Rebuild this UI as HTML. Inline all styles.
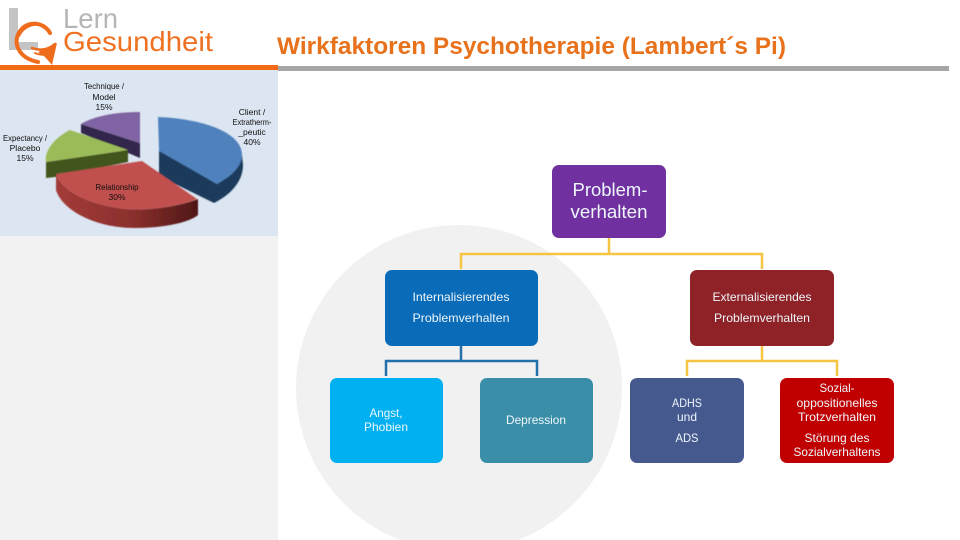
<!DOCTYPE html>
<html lang="de">
<head>
<meta charset="utf-8">
<title>Wirkfaktoren Psychotherapie</title>
<style>
html,body{margin:0;padding:0;background:#fff;width:960px;height:540px;overflow:hidden}
svg{display:block}
text{font-family:"Liberation Sans",sans-serif}
.m{text-anchor:middle;fill:#eef6fb;font-size:12px}
.p{text-anchor:middle;fill:#111;font-size:8.5px}
</style>
</head>
<body>
<svg width="960" height="540" viewBox="0 0 960 540" xmlns="http://www.w3.org/2000/svg">
<defs>
<filter id="b" x="-5%" y="-5%" width="110%" height="110%"><feGaussianBlur stdDeviation="0.4"/></filter>
<filter id="t" x="-5%" y="-20%" width="110%" height="140%"><feGaussianBlur stdDeviation="0.25"/></filter>
<linearGradient id="rs" x1="0" x2="1" y1="0" y2="0"><stop offset="0" stop-color="#a33c39"/><stop offset=".55" stop-color="#8a2f2d"/><stop offset="1" stop-color="#4f1716"/></linearGradient>
</defs>
<rect width="960" height="540" fill="#fff"/>

<!-- left panel -->
<rect x="0" y="236" width="278" height="304" fill="#f2f2f2"/>
<rect x="0" y="70" width="278" height="166" fill="#dce6f2"/>

<!-- header bars -->
<rect x="278" y="66" width="671" height="5" fill="#a6a6a6"/>
<rect x="0" y="65" width="278" height="5" fill="#f26a13"/>

<!-- logo -->
<path d="M9 8h9v34h20v8H9z" fill="#c4c4c4"/>
<g fill="none" stroke="#ee6c1c" stroke-linecap="round">
<path d="M50 33C44 22 28 20 20 31C12 42 18 58 38 62" stroke-width="4"/>
<path d="M46 28C36 21 24 26 19 36" stroke-width="2"/>
<path d="M32 48C40 51 48 50 55 44" stroke-width="2.5"/>
<path d="M35 53C42 56 47 55 52 50" stroke-width="2"/>
</g>
<path d="M57 43L52 65L45 57L38 52z" fill="#ee6c1c"/>
<text x="63" y="28" font-size="28" fill="#b5b5b5" textLength="55" lengthAdjust="spacingAndGlyphs" filter="url(#t)">Lern</text>
<text x="63" y="51" font-size="28" fill="#ee7220" textLength="150" lengthAdjust="spacingAndGlyphs" filter="url(#t)">Gesundheit</text>

<!-- title -->
<text x="277" y="54" font-size="24" font-weight="bold" fill="#e8721c" textLength="509" lengthAdjust="spacingAndGlyphs">Wirkfaktoren Psychotherapie (Lambert´s Pi)</text>

<!-- pie chart -->
<g filter="url(#b)">
<path d="M159 150V176L214 203C230 195 243 182 243 165L242 155L217 184z" fill="#1f3a5c"/>
<path d="M158 117C205 119 242 133 242 155C242 166 232 176 217 184L159 151z" fill="#4f81bd"/>
<path d="M81 124V133L140 158V143z" fill="#33254d"/>
<path d="M81 124C94 116 116 112 140 112V143z" fill="#8064a2"/>
<path d="M46 162V178L55 177L128 162V150z" fill="#43551f"/>
<path d="M70 130L128 150L46 162C44 151 54 138 70 130z" fill="#9bbb59"/>
<path d="M56 174V190C62 210 95 228 135 228C165 228 190 222 198 215V199C180 206 150 211 125 209C85 204 62 190 56 174z" fill="url(#rs)"/>
<path d="M142 161L56 174C62 190 85 204 125 209C150 211 180 206 197 199z" fill="#c0504d"/>
</g>
<g filter="url(#t)">
<text class="p" x="104" y="89" textLength="40" lengthAdjust="spacingAndGlyphs">Technique /</text>
<text class="p" x="104" y="100">Model</text>
<text class="p" x="104" y="110">15%</text>
<text class="p" x="252" y="115">Client /</text>
<text class="p" x="252" y="125" textLength="39" lengthAdjust="spacingAndGlyphs">Extratherm-</text>
<text class="p" x="252" y="135">_peutic</text>
<text class="p" x="252" y="145">40%</text>
<text class="p" x="25" y="141" textLength="44" lengthAdjust="spacingAndGlyphs">Expectancy /</text>
<text class="p" x="25" y="151">Placebo</text>
<text class="p" x="25" y="161">15%</text>
<text class="p" x="117" y="190" textLength="43" lengthAdjust="spacingAndGlyphs">Relationship</text>
<text class="p" x="117" y="200">30%</text>
</g>

<!-- grey circle -->
<circle cx="459" cy="388" r="163" fill="#f1f1f2"/>

<!-- connectors -->
<g fill="none" stroke-width="2.5">
<path d="M609 238V254M461 269V254H762V269" stroke="#f4c542"/>
<path d="M461 346V361M386 376V361H537V376" stroke="#2470aa"/>
<path d="M762 346V361M687 376V361H837V376" stroke="#f4c542"/>
</g>

<!-- boxes -->
<rect x="552" y="165" width="114" height="73" rx="7" fill="#7030a0"/>
<rect x="385" y="270" width="153" height="76" rx="7" fill="#0a6bb8"/>
<rect x="690" y="270" width="144" height="76" rx="7" fill="#8e2226"/>
<rect x="330" y="378" width="113" height="85" rx="7" fill="#00b0f0"/>
<rect x="480" y="378" width="113" height="85" rx="7" fill="#3b8ea8"/>
<rect x="630" y="378" width="114" height="85" rx="7" fill="#46598f"/>
<rect x="780" y="378" width="114" height="85" rx="7" fill="#c00000"/>

<!-- box labels -->
<g filter="url(#t)">
<text class="m" x="610" y="196" style="font-size:18px" textLength="75" lengthAdjust="spacingAndGlyphs">Problem-</text>
<text class="m" x="609" y="218" style="font-size:18px" textLength="77" lengthAdjust="spacingAndGlyphs">verhalten</text>
<text class="m" x="461" y="301" textLength="97" lengthAdjust="spacingAndGlyphs">Internalisierendes</text>
<text class="m" x="461" y="322" textLength="97" lengthAdjust="spacingAndGlyphs">Problemverhalten</text>
<text class="m" x="762" y="301" textLength="99" lengthAdjust="spacingAndGlyphs">Externalisierendes</text>
<text class="m" x="762" y="322" textLength="96" lengthAdjust="spacingAndGlyphs">Problemverhalten</text>
<text class="m" x="386" y="417" textLength="33" lengthAdjust="spacingAndGlyphs">Angst,</text>
<text class="m" x="386" y="431" textLength="44" lengthAdjust="spacingAndGlyphs">Phobien</text>
<text class="m" x="536" y="424" textLength="60" lengthAdjust="spacingAndGlyphs">Depression</text>
<text class="m" x="687" y="407" textLength="30" lengthAdjust="spacingAndGlyphs">ADHS</text>
<text class="m" x="687" y="421" textLength="20" lengthAdjust="spacingAndGlyphs">und</text>
<text class="m" x="687" y="442" textLength="23" lengthAdjust="spacingAndGlyphs">ADS</text>
<text class="m" x="837" y="392" textLength="35" lengthAdjust="spacingAndGlyphs">Sozial-</text>
<text class="m" x="837" y="407" textLength="81" lengthAdjust="spacingAndGlyphs">oppositionelles</text>
<text class="m" x="837" y="421" textLength="78" lengthAdjust="spacingAndGlyphs">Trotzverhalten</text>
<text class="m" x="837" y="442" textLength="65" lengthAdjust="spacingAndGlyphs">Störung des</text>
<text class="m" x="837" y="456" textLength="87" lengthAdjust="spacingAndGlyphs">Sozialverhaltens</text>
</g>
</svg>
</body>
</html>
